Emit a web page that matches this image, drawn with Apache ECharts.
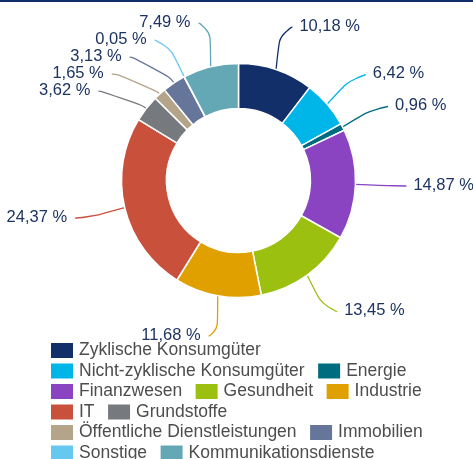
<!DOCTYPE html>
<html>
<head>
<meta charset="utf-8">
<script src="https://cdn.jsdelivr.net/npm/echarts@6/dist/echarts.min.js"></script>
<style>
html,body{margin:0;padding:0;background:#fff;}
#c{width:473px;height:459px;}
</style>
</head>
<body>
<div id="c"></div>
<script>
const categories = ['Zyklische Konsumgüter','Nicht-zyklische Konsumgüter','Energie','Finanzwesen','Gesundheit','Industrie','IT','Grundstoffe','Öffentliche Dienstleistungen','Immobilien','Sonstige','Kommunikationsdienste'];
const values = [10.18, 6.42, 0.96, 14.87, 13.45, 11.68, 24.37, 3.62, 1.65, 3.13, 0.05, 7.49];
const colors = ['#132f69','#00b5e8','#006c80','#8a44c2','#9bc010','#e0a000','#c9503b','#76797e','#b3a48a','#66769a','#66c8ee','#64a8b5'];

const CX = 238.5, CY = 180.5, R0 = 72, R1 = 117, RLX = 168, RLY = 162, GAP = 17, MAXY = 336;

// label anchor points derived from the data (slice mid angles)
const total = values.reduce((a, b) => a + b, 0);
let acc = 0;
const anchors = values.map((v) => {
  const mid = (acc + v / 2) / total * Math.PI * 2; acc += v;
  return { mid: mid, side: Math.sin(mid) >= 0 ? 1 : -1, y: CY - RLY * Math.cos(mid), x0: CX + RLX * Math.sin(mid) };
});
[1, -1].forEach(side => {
  const idx = anchors.map((a, i) => i).filter(i => anchors[i].side === side).sort((a, b) => anchors[a].y - anchors[b].y);
  let prev = -Infinity;
  idx.forEach(i => {
    const a = anchors[i];
    const moved = a.y < prev + GAP;
    a.y = Math.max(a.y, prev + GAP);
    prev = a.y;
    const c = Math.max(-1, Math.min(1, (CY - a.y) / RLY));
    a.x = moved ? CX + side * RLX * Math.sqrt(1 - c * c) : a.x0;
    if (a.y > MAXY) a.y = MAXY;
  });
});

const chart = echarts.init(document.getElementById('c'), null, { renderer: 'canvas' });
chart.setOption({
  animation: false,
  color: colors,
  graphic: [{ type: 'rect', left: 0, top: 0, shape: { width: 473, height: 2 }, style: { fill: '#132f69' } }],
  legend: {
    left: 49, top: 341, width: 400, orient: 'horizontal', padding: 0,
    itemWidth: 24, itemHeight: 17, itemGap: 1.5,
    icon: 'rect',
    textStyle: { fontFamily: 'Liberation Sans', fontSize: 17.5, color: '#4d4d4d', lineHeight: 18, padding: [0, 10, 0, 0] },
    data: categories
  },
  series: [{
    type: 'pie',
    center: [CX, CY],
    radius: [R0, R1],
    startAngle: 90,
    clockwise: true,
    avoidLabelOverlap: false,
    itemStyle: { borderColor: '#fff', borderWidth: 1.5 },
    label: {
      show: true, position: 'outside',
      formatter: p => String(p.value.toFixed(2)).replace('.', ',') + ' %',
      fontFamily: 'Liberation Sans', fontSize: 16.5, color: '#1d3461'
    },
    labelLine: { show: true, smooth: 0.9, lineStyle: { width: 1.3 } },
    labelLayout: function (params) {
      const a = anchors[params.dataIndex];
      const s = a.side;
      const p0 = [CX + R1 * Math.sin(a.mid), CY - R1 * Math.cos(a.mid)];
      const ux = Math.sin(a.mid), uy = -Math.cos(a.mid);
      let rx = p0[0];
      if (Math.abs(uy) > 1e-3) {
        const t = (a.y - p0[1]) / uy;
        rx = p0[0] + ux * Math.max(0, t);
      }
      let p1x = s > 0 ? Math.min(rx, a.x - 12) : Math.max(rx, a.x + 12);
      if (s > 0) p1x = Math.max(p1x, p0[0]); else p1x = Math.min(p1x, p0[0]);
      return {
        x: a.x + (s > 0 ? 7 : -8),
        y: a.y - 1,
        align: s > 0 ? 'left' : 'right',
        verticalAlign: 'middle',
        labelLinePoints: [p0, [p1x, a.y], [a.x, a.y]]
      };
    },
    data: categories.map((n, i) => ({ name: n, value: values[i] }))
  }]
});
</script>
</body>
</html>
